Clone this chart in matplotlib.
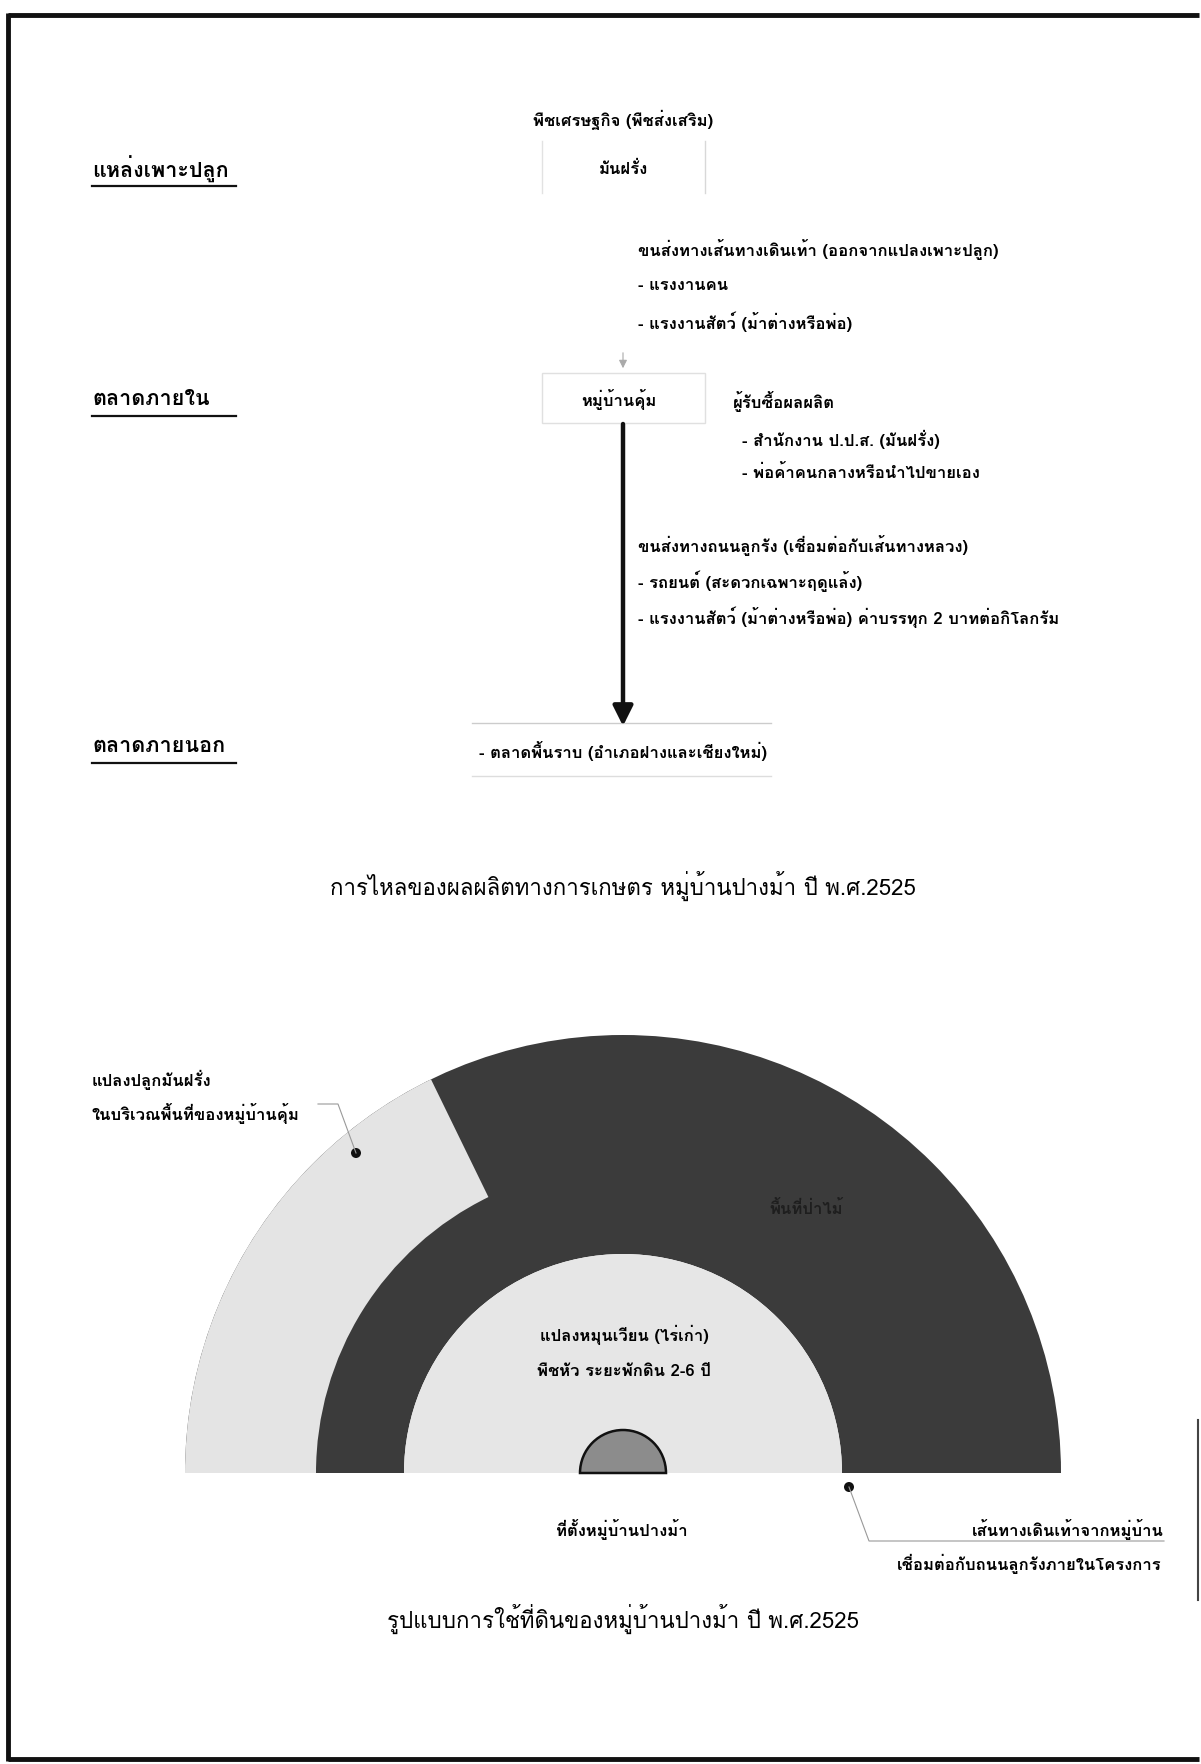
import matplotlib
matplotlib.use('Agg')
import matplotlib.pyplot as plt
from matplotlib import font_manager
from matplotlib.ft2font import FT2Font
from matplotlib.patches import Wedge, Rectangle, Circle


def thai_fonts():
    names = []
    for f in font_manager.fontManager.ttflist:
        try:
            if 0x0E01 in FT2Font(f.fname).get_charmap() and f.name not in names:
                names.append(f.name)
        except Exception:
            pass
    return names


found = thai_fonts()
FAMILY = found + ['DejaVu Sans']
plt.rcParams['font.family'] = FAMILY

# --- upper diagram: flow of produce ---
levels = ['แหล่งเพาะปลูก', 'ตลาดภายใน', 'ตลาดภายนอก']
level_y = [169, 399, 746]
crop_group = 'พืชเศรษฐกิจ (พืชส่งเสริม)'
crop = 'มันฝรั่ง'
village = 'หมู่บ้านคุ้ม'
walk_lines = ['ขนส่งทางเส้นทางเดินเท้า (ออกจากแปลงเพาะปลูก)',
              '- แรงงานคน',
              '- แรงงานสัตว์ (ม้าต่างหรือพ่อ)']
buyer_lines = ['ผู้รับซื้อผลผลิต',
               '- สำนักงาน ป.ป.ส. (มันฝรั่ง)',
               '- พ่อค้าคนกลางหรือนำไปขายเอง']
road_lines = ['ขนส่งทางถนนลูกรัง (เชื่อมต่อกับเส้นทางหลวง)',
              '- รถยนต์ (สะดวกเฉพาะฤดูแล้ง)',
              '- แรงงานสัตว์ (ม้าต่างหรือพ่อ) ค่าบรรทุก 2 บาทต่อกิโลกรัม']
outer_market = '- ตลาดพื้นราบ (อำเภอฝางและเชียงใหม่)'
title1 = 'การไหลของผลผลิตทางการเกษตร หมู่บ้านปางม้า ปี พ.ศ.2525'

# --- lower diagram: land use ---
ring_radii = [219, 307, 438]          # inner fields, potato band, outer edge
potato_angles = [116, 180]            # degrees, counted from the right, upwards
village_radius = 43
potato_label = ['แปลงปลูกมันฝรั่ง', 'ในบริเวณพื้นที่ของหมู่บ้านคุ้ม']
forest_label = 'พื้นที่ป่าไม้'
rotation_label = ['แปลงหมุนเวียน (ไร่เก่า)', 'พืชหัว ระยะพักดิน 2-6 ปี']
village_label = 'ที่ตั้งหมู่บ้านปางม้า'
path_label = ['เส้นทางเดินเท้าจากหมู่บ้าน', 'เชื่อมต่อกับถนนลูกรังภายในโครงการ']
title2 = 'รูปแบบการใช้ที่ดินของหมู่บ้านปางม้า ปี พ.ศ.2525'

W, H = 1201, 1764
fig = plt.figure(figsize=(W / 100, H / 100), dpi=100)
ax = fig.add_axes([0, 0, 1, 1])
ax.set_xlim(0, W)
ax.set_ylim(H, 0)
ax.set_aspect('equal')
ax.axis('off')

dark = '#3b3b3b'
light = '#e4e4e4'
fs = 12
fs_cap = 16

# page frame (right side mostly lost in the scan)
ax.plot([8, 1199], [15, 15], color='#111111', lw=3.5, solid_capstyle='butt')
ax.plot([8, 8], [13, 1761], color='#111111', lw=3.5, solid_capstyle='butt')
ax.plot([8, 1199], [1759, 1759], color='#111111', lw=3.5, solid_capstyle='butt')
ax.plot([1198, 1198], [1420, 1600], color='#444444', lw=1.5)

# level headings
for name, y in zip(levels, level_y):
    ax.text(92, y, name, fontsize=15.5, fontweight='bold', va='center', ha='left')
    ax.plot([92, 236], [y + 17, y + 17], color='#111111', lw=1.6)

cx = 623
ax.text(cx, 120, crop_group, fontsize=fs, fontweight='bold', ha='center', va='center')
ax.plot([542, 542], [141, 193], color='#e2e2e2', lw=1)
ax.plot([705, 705], [141, 193], color='#d8d8d8', lw=1)
ax.text(cx, 169, crop, fontsize=fs, fontweight='bold', ha='center', va='center')

for i, t in enumerate(walk_lines):
    ax.text(638, 250 + 36 * i, t, fontsize=fs, fontweight='bold', va='center')
ax.annotate('', xy=(cx, 371), xytext=(cx, 350),
            arrowprops=dict(arrowstyle='-|>', color='#aaaaaa', lw=0.8, mutation_scale=12))

ax.add_patch(Rectangle((542, 373), 163, 50, fill=False, ec='#e0e0e0', lw=1))
ax.text(cx - 4, 399, village, fontsize=fs, fontweight='bold', ha='center', va='center')
ax.text(733, 401, buyer_lines[0], fontsize=fs, fontweight='bold', va='center')
for i, t in enumerate(buyer_lines[1:]):
    ax.text(742, 439 + 34 * i, t, fontsize=fs, fontweight='bold', va='center')

ax.annotate('', xy=(cx, 726), xytext=(cx, 424),
            arrowprops=dict(arrowstyle='-|>', color='#111111', lw=3.2,
                            mutation_scale=30, shrinkA=0, shrinkB=0))
for i, t in enumerate(road_lines):
    ax.text(638, 545 + 36 * i, t, fontsize=fs, fontweight='bold', va='center')

ax.plot([472, 771], [723, 723], color='#cccccc', lw=1)
ax.plot([472, 771], [776, 776], color='#dddddd', lw=1)
ax.text(cx, 751, outer_market, fontsize=fs, fontweight='bold', ha='center', va='center')

ax.text(cx, 886, title1, fontsize=fs_cap, ha='center', va='center')

# land use half-disc (y axis is flipped, so upward angles are negative)
cy = 1473
ax.add_patch(Wedge((cx, cy), ring_radii[2], 180, 360, width=ring_radii[2] - ring_radii[0],
                   fc=dark, ec='none'))
ax.add_patch(Wedge((cx, cy), ring_radii[2], 360 - potato_angles[1], 360 - potato_angles[0],
                   width=ring_radii[2] - ring_radii[1], fc=light, ec='none'))
ax.add_patch(Wedge((cx, cy), ring_radii[0], 180, 360, fc='#e6e6e6', ec='none'))
ax.add_patch(Wedge((cx, cy), village_radius, 180, 360, fc='#8c8c8c', ec='#111111', lw=1.8))

ax.text(92, 1080, potato_label[0], fontsize=fs, fontweight='bold', va='center')
ax.text(92, 1113, potato_label[1], fontsize=fs, fontweight='bold', va='center')
ax.plot([318, 338, 356], [1104, 1104, 1153], color='#999999', lw=0.8)
ax.add_patch(Circle((356, 1153), 5, fc='#111111'))

ax.text(806, 1209, forest_label, fontsize=fs, fontweight='bold', ha='center', va='center',
        color='#1e1e1e')
for i, t in enumerate(rotation_label):
    ax.text(cx + 1, 1335 + 36 * i, t, fontsize=fs, fontweight='bold', ha='center', va='center')

ax.text(cx - 1, 1529, village_label, fontsize=fs, fontweight='bold', ha='center', va='center')
ax.plot([849, 869, 1164], [1487, 1541, 1541], color='#999999', lw=0.8)
ax.add_patch(Circle((849, 1487), 5, fc='#111111'))
ax.text(1164, 1530, path_label[0], fontsize=fs, fontweight='bold', ha='right', va='center')
ax.text(1162, 1564, path_label[1], fontsize=fs, fontweight='bold', ha='right', va='center')

ax.text(cx, 1619, title2, fontsize=fs_cap, ha='center', va='center')

fig.savefig('out.png', dpi=100, facecolor='white')
